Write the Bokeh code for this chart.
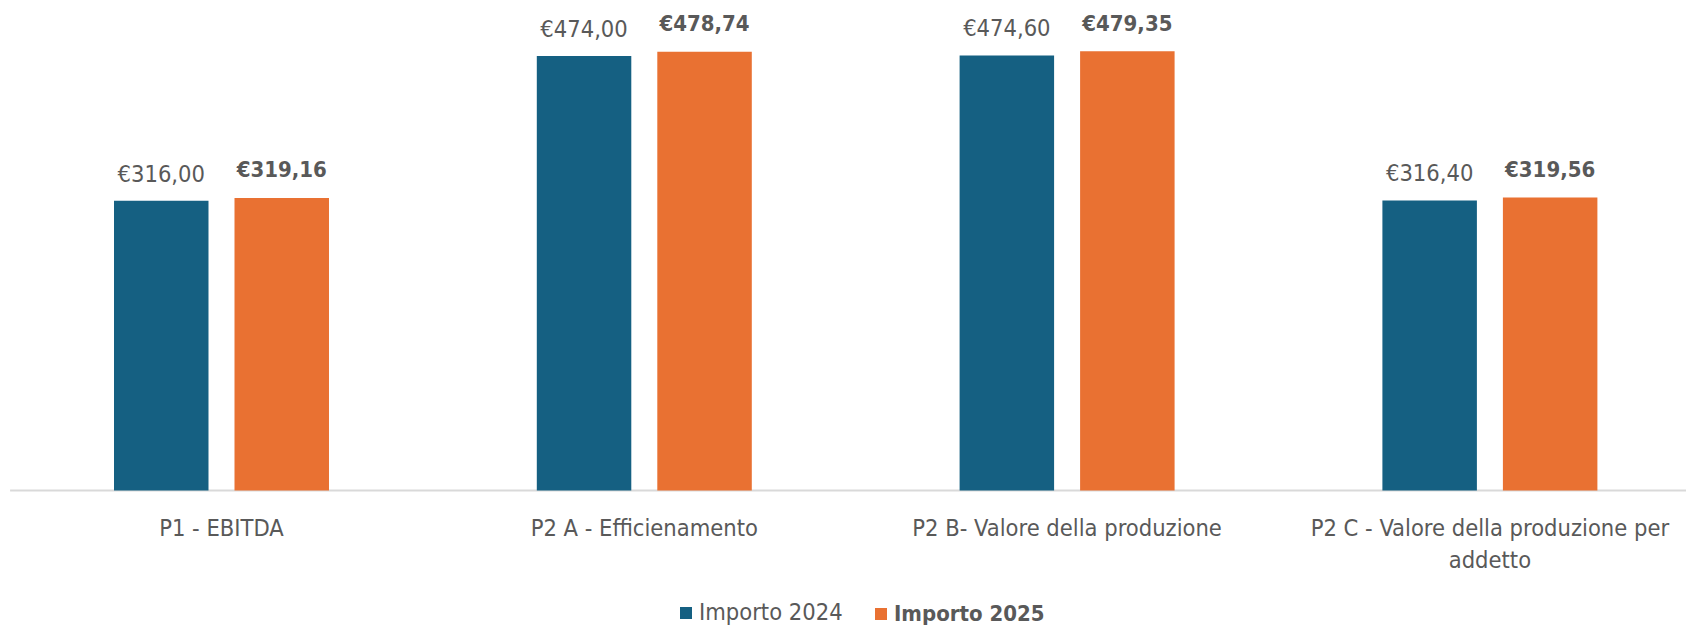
import textwrap
from bokeh.plotting import figure
from bokeh.models import ColumnDataSource, Legend, LegendItem, Range1d
from bokeh.core.properties import value
from bokeh.embed import file_html
from bokeh.resources import INLINE

# ---- data ----
categories = [
    "P1 - EBITDA",
    "P2 A - Efficienamento",
    "P2 B- Valore della produzione",
    "P2 C - Valore della produzione per addetto",
]
importo_2024 = [316.00, 474.00, 474.60, 316.40]
importo_2025 = [319.16, 478.74, 479.35, 319.56]
series_names = ["Importo 2024", "Importo 2025"]

# ---- style ----
BLUE = "#156082"
ORANGE = "#E97132"
TEXT = "#595959"
FONT = "'Liberation Sans Narrow', 'DejaVu Sans Condensed', 'Liberation Sans'"
FS = "23.5px"
FSB = "22px"

def eur(v):
    return "\u20ac" + f"{v:.2f}".replace(".", ",")

xs = [i + 0.5 for i in range(len(categories))]
off = 0.1425
bw = 0.2235
wrapped = [textwrap.wrap(c, 34) for c in categories]
line1 = [w[0] for w in wrapped]
line2 = [w[1] if len(w) > 1 else "" for w in wrapped]

src = ColumnDataSource(dict(
    x=xs,
    x24=[x - off for x in xs],
    x25=[x + off for x in xs],
    v24=importo_2024,
    v25=importo_2025,
    l24=[eur(v) for v in importo_2024],
    l25=[eur(v) for v in importo_2025],
    c1=line1,
    c2=line2,
    zero=[0] * len(xs),
))

W, H = 1686, 625
p = figure(width=W, height=H, output_backend="svg", toolbar_location=None,
           x_range=Range1d(-0.0227, 3.965), y_range=Range1d(-147.3, 534.6),
           x_axis_type=None, y_axis_type=None,
           min_border=0, min_border_left=0, min_border_right=0,
           min_border_top=0, min_border_bottom=0)
p.grid.visible = False
p.outline_line_color = None
p.background_fill_color = "white"
p.border_fill_color = "white"

# axis baseline
p.segment(x0=[0], x1=[len(categories)], y0=[0], y1=[0], line_color="#d9d9d9", line_width=2)

r24 = p.vbar(x="x24", top="v24", bottom=0, width=bw, source=src,
             fill_color=BLUE, line_color=None)
r25 = p.vbar(x="x25", top="v25", bottom=0, width=bw, source=src,
             fill_color=ORANGE, line_color=None)

p.text(x="x24", y="v24", text="l24", source=src, text_align="center",
       text_baseline="alphabetic", y_offset=-27, text_font=value(FONT),
       text_font_size=FS, text_color=TEXT)
p.text(x="x25", y="v25", text="l25", source=src, text_align="center",
       text_baseline="alphabetic", y_offset=-28, text_font=value(FONT),
       text_font_size=FSB, text_color=TEXT, text_font_style="bold")

p.text(x="x", y="zero", text="c1", source=src, text_align="center",
       text_baseline="alphabetic", y_offset=38, text_font=value(FONT),
       text_font_size=FS, text_color=TEXT)
p.text(x="x", y="zero", text="c2", source=src, text_align="center",
       text_baseline="alphabetic", y_offset=70, text_font=value(FONT),
       text_font_size=FS, text_color=TEXT)

def mk_legend(name, r, loc, style, fs):
    lg = Legend(items=[LegendItem(label=name, renderers=[r])], location=loc,
                orientation="horizontal", padding=0, margin=0, spacing=0,
                border_line_color=None, background_fill_alpha=0,
                glyph_width=15, glyph_height=15, label_height=15,
                label_standoff=6, label_text_font=FONT, label_text_font_size=fs,
                label_text_color=TEXT, label_text_font_style=style)
    p.add_layout(lg)
    return lg

mk_legend(series_names[0], r24, (678, -1), "normal", FS)
mk_legend(series_names[1], r25, (873, -1), "bold", FSB)

open("out.html", "w").write(file_html(p, INLINE))
